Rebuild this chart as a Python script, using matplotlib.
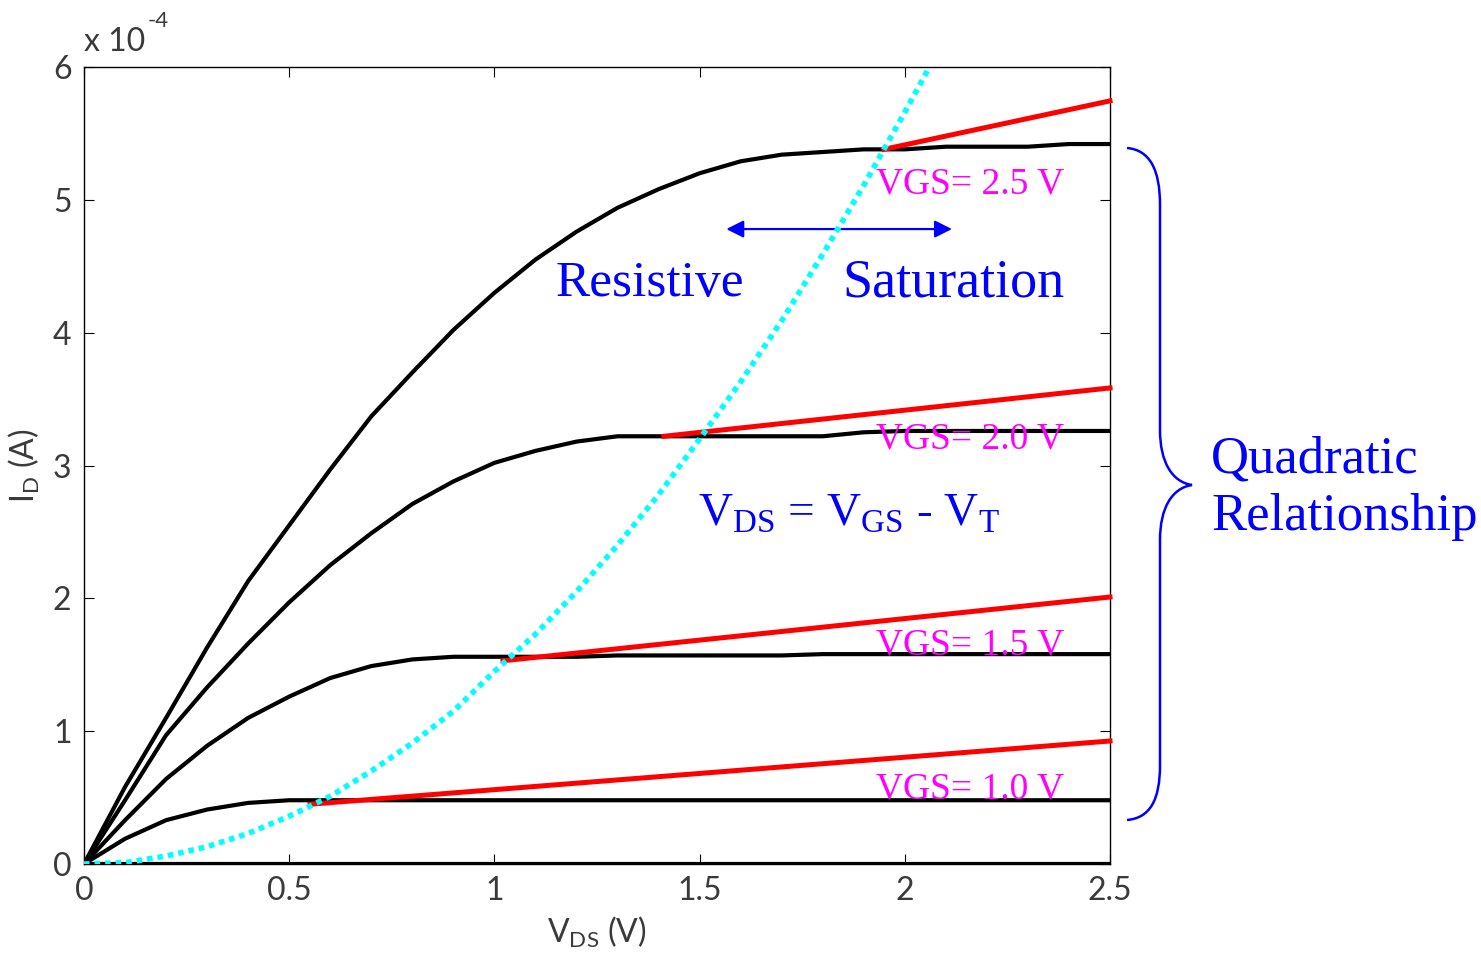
import numpy as np
import matplotlib.pyplot as plt
from matplotlib.path import Path
from matplotlib.patches import PathPatch

# drain voltage sample points (V)
vds = [0.0, 0.1, 0.2, 0.3, 0.4, 0.5, 0.6, 0.7, 0.8, 0.9, 1.0, 1.1, 1.2,
       1.3, 1.4, 1.5, 1.6, 1.7, 1.8, 1.9, 2.0, 2.1, 2.2, 2.3, 2.4, 2.5]

# drain current, units of 1e-4 A
id_vgs25 = [0, 0.58, 1.10, 1.63, 2.13, 2.55, 2.97, 3.37, 3.70, 4.02, 4.30, 4.55, 4.76,
            4.94, 5.08, 5.20, 5.29, 5.34, 5.36, 5.38, 5.38, 5.40, 5.40, 5.40, 5.42, 5.42]
id_vgs20 = [0, 0.48, 0.97, 1.33, 1.66, 1.97, 2.25, 2.49, 2.71, 2.88, 3.02, 3.11, 3.18,
            3.22, 3.22, 3.22, 3.22, 3.22, 3.22, 3.25, 3.26, 3.26, 3.26, 3.26, 3.26, 3.26]
id_vgs15 = [0, 0.33, 0.64, 0.89, 1.10, 1.26, 1.40, 1.49, 1.54, 1.56, 1.56, 1.56, 1.56,
            1.57, 1.57, 1.57, 1.57, 1.57, 1.58, 1.58, 1.58, 1.58, 1.58, 1.58, 1.58, 1.58]
id_vgs10 = [0, 0.19, 0.33, 0.41, 0.46, 0.48, 0.48, 0.48, 0.48, 0.48, 0.48, 0.48, 0.48,
            0.48, 0.48, 0.48, 0.48, 0.48, 0.48, 0.48, 0.48, 0.48, 0.48, 0.48, 0.48, 0.48]
id_vgs00 = [0] * 26
curves = [id_vgs00, id_vgs10, id_vgs15, id_vgs20, id_vgs25]

# saturation lines with channel length modulation
sat_labels = ['VGS= 1.0 V', 'VGS= 1.5 V', 'VGS= 2.0 V', 'VGS= 2.5 V']
sat_v0 = [0.551, 1.021, 1.413, 1.949]
sat_i0 = [0.45, 1.53, 3.22, 5.38]
sat_i1 = [0.926, 2.01, 3.584, 5.745]
label_y = [0.56, 1.65, 3.20, 5.12]

# VDS = VGS - VT boundary
edge_v = [0.0, 0.1, 0.2, 0.3, 0.4, 0.5, 0.6, 0.7, 0.8, 0.9, 1.0, 1.1,
          1.2, 1.3, 1.4, 1.5, 1.6, 1.7, 1.8, 1.9, 2.0, 2.06]
edge_i = [0, 0.01, 0.06, 0.13, 0.23, 0.36, 0.51, 0.70, 0.91, 1.15, 1.45, 1.73,
          2.05, 2.40, 2.78, 3.20, 3.63, 4.09, 4.59, 5.11, 5.66, 6.0]

W, H = 1481, 958
fig = plt.figure(figsize=(W / 100, H / 100), dpi=100)
ax = fig.add_axes([84 / W, 1 - 864 / H, (1110 - 84) / W, (864 - 67) / H])

sans = ['Lato', 'DejaVu Sans']
serif = ['Liberation Serif', 'DejaVu Serif']
gray = '#3a3a3a'

for c in curves:
    ax.plot(vds, c, color='black', lw=3.0, solid_joinstyle='round', zorder=3)
for v0, i0, i1 in zip(sat_v0, sat_i0, sat_i1):
    ax.plot([v0, 2.5], [i0, i1], color='red', lw=3.6, zorder=4, clip_on=False)
ax.plot(edge_v, edge_i, color='#00ffff', lw=4.0, dashes=(1, 0.9),
        dash_capstyle='butt', zorder=5)

for lab, y in zip(sat_labels, label_y):
    ax.text(1.93, y, lab, color='#ff00ff', fontsize=27, family=serif,
            va='center', ha='left', zorder=6)

ax.text(1.148, 4.37, 'Resistive', color='#0000ff', fontsize=37, family=serif,
        va='center', ha='left')
ax.text(1.847, 4.37, 'Saturation', color='#0000ff', fontsize=39, family=serif,
        va='center', ha='left')
ax.text(1.496, 2.63, r'V$_{\mathregular{DS}}$ = V$_{\mathregular{GS}}$ - V$_{\mathregular{T}}$',
        color='#0000ff', fontsize=34, family=serif, va='center', ha='left')
ax.annotate('', xy=(1.565, 4.78), xytext=(2.115, 4.78),
            arrowprops=dict(arrowstyle='<|-|>', color='#0000ff', lw=1.6,
                            mutation_scale=26, shrinkA=0, shrinkB=0))

ax.set_xlim(0, 2.5)
ax.set_ylim(0, 6)
ax.set_xticks([0, 0.5, 1, 1.5, 2, 2.5])
ax.set_xticklabels(['0', '0.5', '1', '1.5', '2', '2.5'])
ax.set_yticks([0, 1, 2, 3, 4, 5, 6])
ax.tick_params(direction='in', length=7, width=0.8, top=True, right=True,
               labelsize=23, labelcolor=gray, pad=9)
for lbl in ax.get_xticklabels() + ax.get_yticklabels():
    lbl.set_family(sans)
for sp in ax.spines.values():
    sp.set_linewidth(1.0)

ax.set_xlabel(r'V$_{\mathregular{DS}}$ (V)', fontsize=23, family=sans,
              color=gray, labelpad=6)
ax.set_ylabel(r'I$_{\mathregular{D}}$ (A)', fontsize=23, family=sans,
              color=gray, labelpad=8)
ax.text(0.0, 1.012, 'x 10', transform=ax.transAxes, fontsize=23, family=sans,
        color=gray, va='bottom', ha='left')
ax.text(0.062, 1.045, '-4', transform=ax.transAxes, fontsize=16, family=sans,
        color=gray, va='bottom', ha='left')


def px(x, y):
    return (x / W, 1 - y / H)


brace = [px(1127, 148), px(1150, 150), px(1160, 170), px(1160, 205),
         px(1160, 430),
         px(1160, 462), px(1172, 482), px(1192, 485),
         px(1172, 488), px(1160, 508), px(1160, 540),
         px(1160, 765),
         px(1160, 800), px(1150, 818), px(1127, 820)]
codes = [Path.MOVETO, Path.CURVE4, Path.CURVE4, Path.CURVE4,
         Path.LINETO,
         Path.CURVE4, Path.CURVE4, Path.CURVE4,
         Path.CURVE4, Path.CURVE4, Path.CURVE4,
         Path.LINETO,
         Path.CURVE4, Path.CURVE4, Path.CURVE4]
fig.add_artist(PathPatch(Path(brace, codes), facecolor='none', edgecolor='#0000ff',
                         lw=1.8, transform=fig.transFigure))

fig.text(1211 / W, 1 - 460 / H, 'Quadratic', color='#0000ff', fontsize=38,
         family=serif, va='center', ha='left')
fig.text(1211 / W, 1 - 517 / H, 'Relationship', color='#0000ff', fontsize=38,
         family=serif, va='center', ha='left')

fig.savefig('out.png', dpi=100)
